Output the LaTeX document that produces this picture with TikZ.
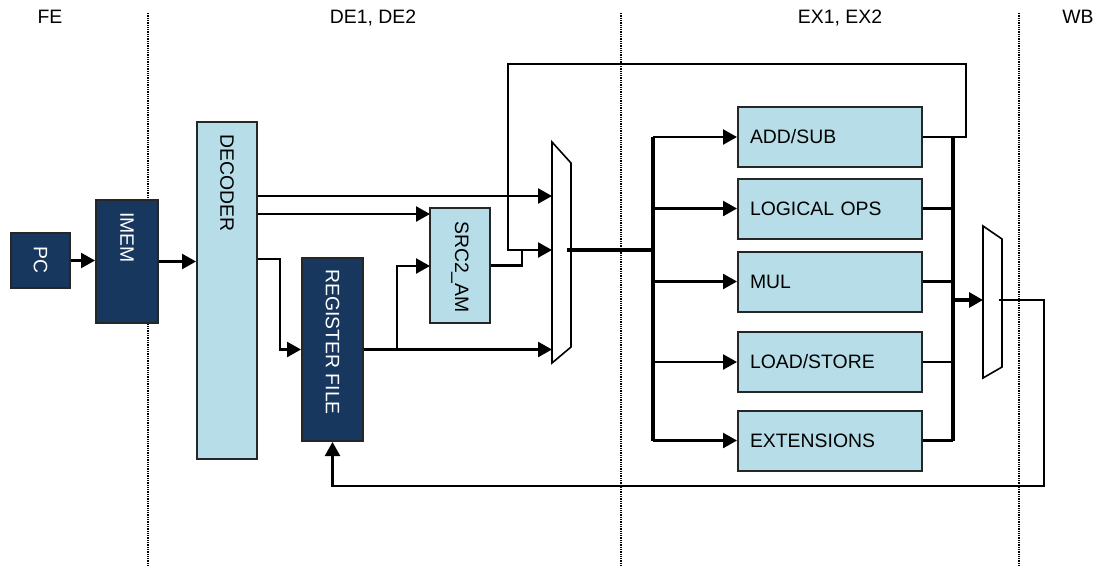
\documentclass[tikz,border=0pt]{standalone}
\usepackage{fontspec}
\setmainfont{Liberation Sans}
\usetikzlibrary{arrows.meta}
\definecolor{regnavy}{RGB}{23,55,94}
\definecolor{unitblue}{RGB}{183,222,232}

\begin{document}
\begin{tikzpicture}[x=1pt, y=-1pt, line width=2.4pt,
		font=\fontsize{19.4}{23}\selectfont,
		darkbox/.style={draw=black!85, line width=2pt, fill=regnavy},
		lightbox/.style={draw=black!85, line width=2pt, fill=unitblue},
		alubox/.style={lightbox, minimum height=60pt, text width=160pt, inner xsep=12pt, align=left},
		vlabel/.style={rotate=-90, anchor=west, inner sep=0pt},
		conn/.style={-{Triangle[length=14pt,width=15pt]}},
		bus/.style={line width=3.2pt},
		phase/.style={black, densely dotted, line width=1.3pt}]
			\useasboundingbox (0,0) rectangle (1105,566);
			% pipeline stages
			\foreach \x in {148,621,1019} {
				\draw[phase] (\x,13) -- (\x,566);
			}
			\node[anchor=base] (fe) at (50,23) {FE};
			\node[anchor=base] (de) at (373,23) {DE1, DE2};
			\node[anchor=base] (ex) at (840,23) {EX1, EX2};
			\node[anchor=base] (wb) at (1078,23) {WB};
			% fetch and decode
			\node[darkbox, minimum width=59pt, minimum height=55pt] (pc) at (40.5,260.5) {};
			\node[vlabel, white] (pctxt) at (40.5,245) {PC};
			\node[darkbox, minimum width=62pt, minimum height=123pt] (imem) at (127,261.5) {};
			\node[vlabel, white] (imemtxt) at (127,211) {IMEM};
			\node[lightbox, minimum width=60pt, minimum height=337pt] (dec) at (227,290.5) {};
			\node[vlabel] (dectxt) at (227,133) {DECODER};
			\node[darkbox, minimum width=61pt, minimum height=183pt] (rf) at (332.5,349.5) {};
			\node[vlabel, white] (rftxt) at (332.5,268) {REGISTER FILE};
			\node[lightbox, minimum width=60pt, minimum height=115pt] (src) at (460,265.5) {};
			\node[vlabel] (srctxt) at (460,220) {SRC2\_AM};
			% execution units
			\node[alubox] (add) at (830,137) {ADD/SUB};
			\node[alubox] (logic) at (830,208.5) {LOGICAL OPS};
			\node[alubox] (mul) at (830,281.5) {MUL};
			\node[alubox] (ldst) at (830,362) {LOAD/STORE};
			\node[alubox] (ext) at (830,440.5) {EXTENSIONS};
			% muxes
			\draw[line width=1.6pt, fill=white] (552,142) -- (571,163) -- (571,347) -- (552,363) -- cycle;
			\draw[line width=1.6pt, fill=white] (983,226) -- (1002,239) -- (1002,367) -- (983,378) -- cycle;
			\coordinate (m1a) at (552,196);
			\coordinate (m1b) at (552,250);
			\coordinate (m1c) at (552,349.5);
			\coordinate (m1o) at (567,250);
			\coordinate (m2i) at (983,300);
			\coordinate (m2o) at (999,300);
			\coordinate (s1) at (430,214);
			\coordinate (s2) at (430,266);
			\coordinate (k1) at (280,259);
			\coordinate (j1) at (397,349.5);
			\coordinate (j2) at (522,250);
			\coordinate (f1) at (966,64);
			\coordinate (f2) at (508,250);
			\coordinate (f3) at (1044,486);
			\coordinate (bus1) at (653,250);
			\coordinate (bus2) at (953,300);
			% connections
			\draw[conn] (pc.east) -- (pc.east -| imem.west);
			\draw[conn] (imem.east) -- (imem.east -| dec.west);
			\draw[conn] (dec.east |- m1a) -- (m1a);
			\draw[conn] (dec.east |- s1) -- (s1);
			\draw[conn] (dec.east |- k1) -- (k1) |- (rf.west);
			\draw[conn] (rf.east) -- (m1c);
			\draw[conn] (j1) |- (s2);
			\draw (src.east) -| (j2);
			\draw[conn] (add.east) -| (f1) -| (f2) -- (m1b);
			\draw[bus] (m1o) -- (bus1);
			\draw[bus] (bus1 |- add.west) -- (bus1 |- ext.west);
			\foreach \u in {add,logic,mul,ldst,ext} {
				\draw[conn] (bus1 |- \u.west) -- (\u.west);
			}
			\foreach \u in {logic,mul,ldst,ext} {
				\draw (\u.east) -- (\u.east -| bus2);
			}
			\draw[bus] (bus2 |- add.east) -- (bus2 |- ext.east);
			\draw[bus, conn] (bus2) -- (m2i);
			\draw[conn] (m2o) -| (f3) -| (rf.south);
		\end{tikzpicture}
\end{document}
